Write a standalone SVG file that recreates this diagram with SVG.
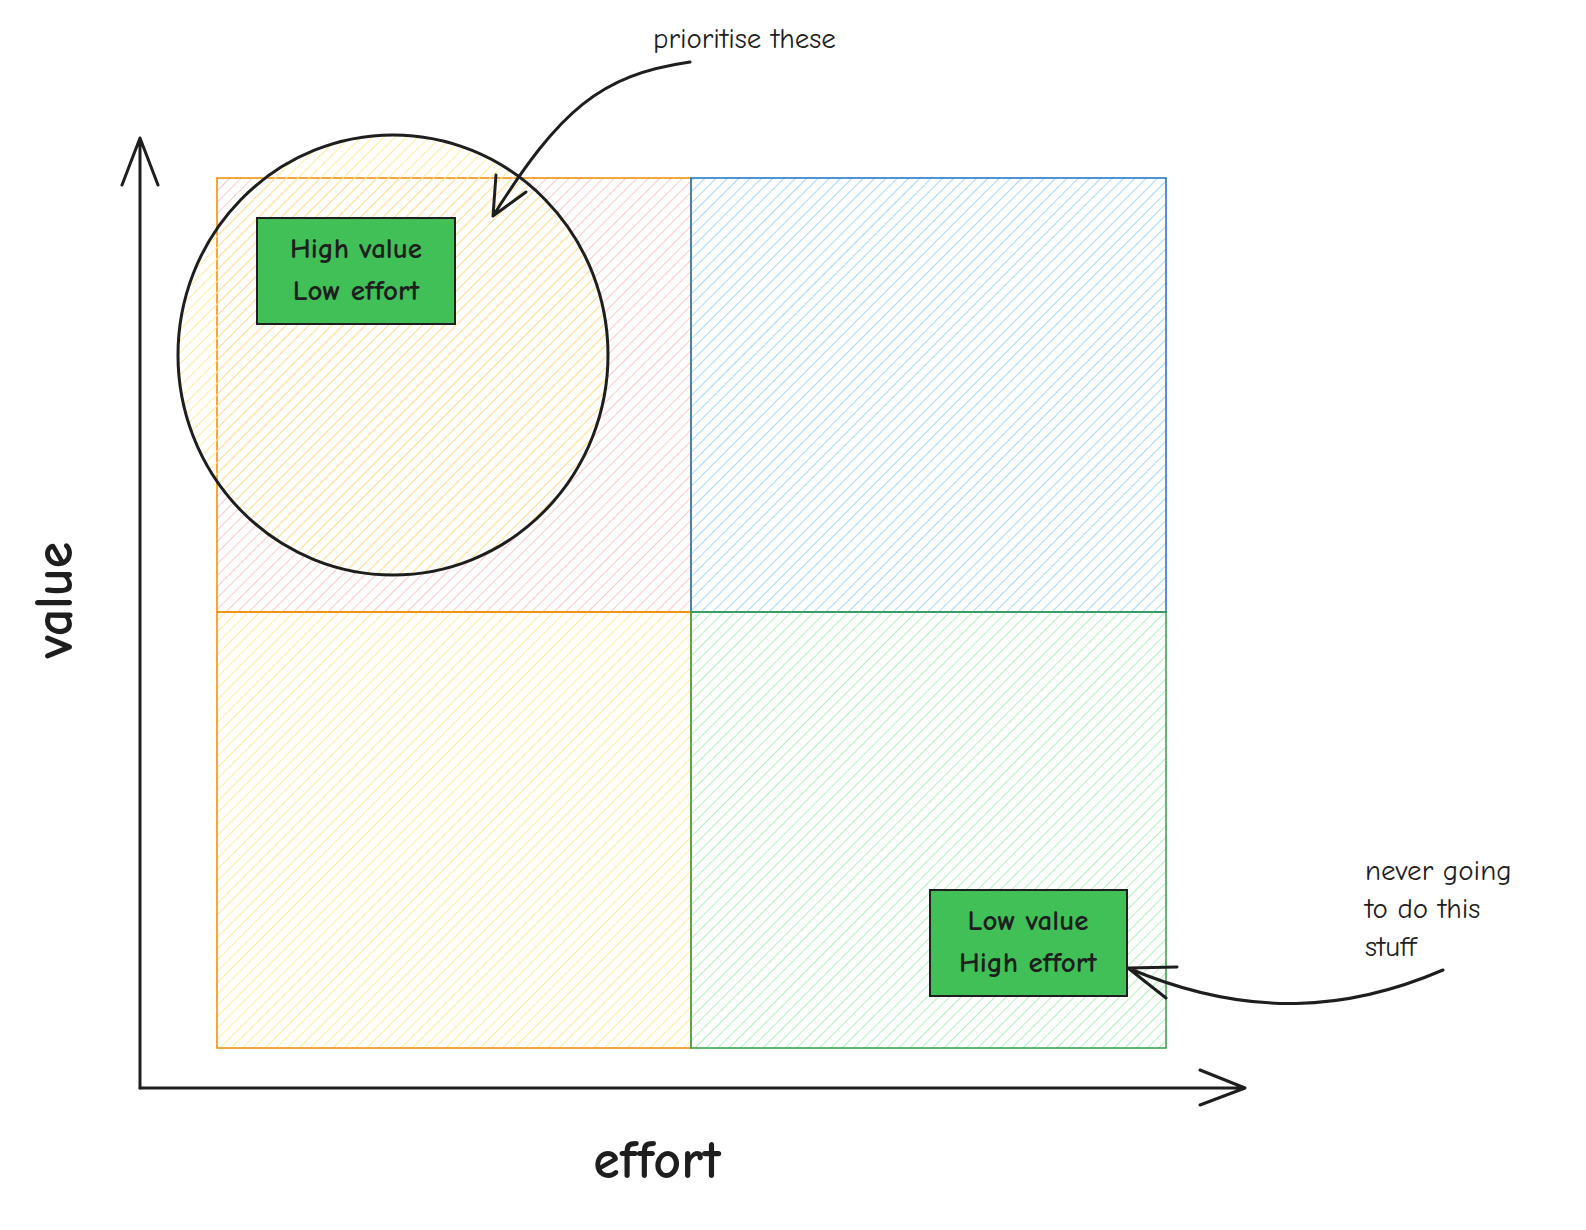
<svg xmlns="http://www.w3.org/2000/svg" width="1586" height="1230" viewBox="0 0 1586 1230">
<style>
.t{font-family:"Comic Neue","Liberation Sans",sans-serif;fill:#1e1e1e}
.ln{fill:none;stroke:#1e1e1e;stroke-width:3;stroke-linecap:round;stroke-linejoin:round}
.box{fill:#40c057;stroke:#1e1e1e;stroke-width:2}
</style>
<defs>
<pattern id="hp" width="8" height="8" patternUnits="userSpaceOnUse" patternTransform="rotate(45)"><line x1="0" y1="0" x2="0" y2="8" stroke="#ffc9c9" stroke-width="2"/></pattern>
<pattern id="hb" width="8" height="8" patternUnits="userSpaceOnUse" patternTransform="rotate(45)"><line x1="0" y1="0" x2="0" y2="8" stroke="#a5d8ff" stroke-width="2"/></pattern>
<pattern id="hy" width="8" height="8" patternUnits="userSpaceOnUse" patternTransform="rotate(45)"><line x1="0" y1="0" x2="0" y2="8" stroke="#ffec99" stroke-width="2"/></pattern>
<pattern id="hg" width="8" height="8" patternUnits="userSpaceOnUse" patternTransform="rotate(45)"><line x1="0" y1="0" x2="0" y2="8" stroke="#b2f2bb" stroke-width="2"/></pattern>
</defs>
<rect width="1586" height="1230" fill="#fff"/>
<g id="q-tl"><rect x="217" y="178" width="474" height="434" fill="url(#hp)" stroke="#f08c00" stroke-width="1.5"/></g>
<g id="q-tr"><rect x="691" y="178" width="475" height="434" fill="url(#hb)" stroke="#1971c2" stroke-width="1.5"/></g>
<g id="q-bl"><rect x="217" y="612" width="474" height="436" fill="url(#hy)" stroke="#f08c00" stroke-width="1.5"/></g>
<g id="q-br"><rect x="691" y="612" width="475" height="436" fill="url(#hg)" stroke="#2f9e44" stroke-width="1.5"/></g>
<g id="circle"><ellipse cx="393" cy="355" rx="215" ry="220" style="fill:url(#hy);stroke:#1e1e1e;stroke-width:3"/></g>
<g id="hvle"><rect class="box" x="257" y="218" width="198" height="106"/>
<text class="t" x="356" y="258" font-size="29" font-weight="bold" text-anchor="middle">High value</text>
<text class="t" x="356" y="300" font-size="29" font-weight="bold" text-anchor="middle">Low effort</text></g>
<g id="lvhe"><rect class="box" x="930" y="890" width="197" height="106"/>
<text class="t" x="1028" y="930" font-size="29" font-weight="bold" text-anchor="middle">Low value</text>
<text class="t" x="1028" y="972" font-size="29" font-weight="bold" text-anchor="middle">High effort</text></g>
<g id="connectors">
<path class="ln" d="M140 1088 V140 M122 185 L140 138 L158 185"/>
<path class="ln" d="M140 1088 H1245 M1200 1070 L1245 1088 L1200 1105"/>
<path class="ln" d="M690 62 C600 75 560 110 493 216 M493 216 L496 175 M493 216 L526 192"/>
<path class="ln" d="M1443 970 C1350 1010 1250 1020 1128 968 M1128 968 L1177 967 M1128 968 L1166 998"/>
</g>
<text class="t" x="653" y="48" font-size="29">prioritise these</text>
<text class="t" x="1365" y="880" font-size="29">never going</text>
<text class="t" x="1365" y="918" font-size="29">to do this</text>
<text class="t" x="1365" y="956" font-size="29">stuff</text>
<text class="t" x="657" y="1178" font-size="54" font-weight="bold" text-anchor="middle">effort</text>
<text class="t" font-size="54" font-weight="bold" text-anchor="middle" transform="translate(72 600) rotate(-90)">value</text>
</svg>
